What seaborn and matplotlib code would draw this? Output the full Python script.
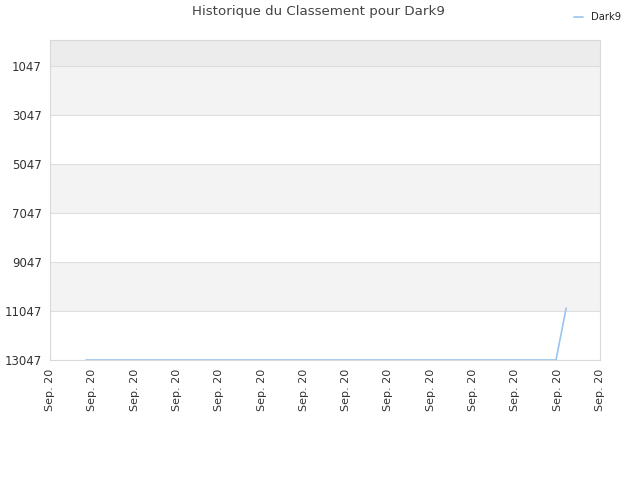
import matplotlib
matplotlib.use("Agg")
import matplotlib.pyplot as plt
import seaborn as sns
import pandas as pd

# rank history (x = position along the time axis, all on Sep. 20)
positions = [0.85, 11.96, 12.2]
ranks = [13047, 13047, 10930]
tick_pos = list(range(14))
tick_labels = ["Sep. 20"] * 14
ytick_vals = [1047, 3047, 5047, 7047, 9047, 11047, 13047]
player = "Dark9"

sns.set_theme(style="white")
plt.rcParams["font.family"] = ["DejaVu Sans"]

df = pd.DataFrame({"x": positions, "rank": ranks, "joueur": player})

fig = plt.figure(figsize=(6.4, 4.8), dpi=100)
ax = fig.add_axes([50 / 640, 1 - 360 / 480, 550 / 640, 320 / 480])

# alternating bands
ax.axhspan(-14, 1047, color="#ececec", zorder=0, lw=0)
for lo in (1047, 5047, 9047):
    ax.axhspan(lo, lo + 2000, color="#f3f3f3", zorder=0, lw=0)
for y in ytick_vals:
    ax.axhline(y, color="#dedede", lw=0.8, zorder=1)

sns.lineplot(data=df, x="x", y="rank", hue="joueur", palette=["#99c4f0"],
             lw=1.2, ax=ax, zorder=3)

ax.set_xlim(0, 13)
ax.set_ylim(13047, -14)
ax.set_yticks(ytick_vals)
ax.set_yticklabels([str(v) for v in ytick_vals], fontsize=8.5, color="#333333")
ax.set_xticks(tick_pos)
ax.set_xticklabels(tick_labels, rotation=90, fontsize=8, color="#333333")
ax.tick_params(axis="both", length=0, pad=6)
ax.set_xlabel("")
ax.set_ylabel("")
for s in ax.spines.values():
    s.set_color("#d9d9d9")
    s.set_linewidth(0.8)

fig.suptitle("Historique du Classement pour Dark9", x=318 / 640, y=1 - 12 / 480,
             fontsize=9.6, color="#444444", va="center")
ax.legend(loc="upper right", bbox_to_anchor=(630 / 640, 1 - 3 / 480),
          bbox_transform=fig.transFigure, frameon=False, fontsize=7.2,
          handlelength=0.9, handletextpad=0.8)

fig.savefig("out.png", dpi=100)
